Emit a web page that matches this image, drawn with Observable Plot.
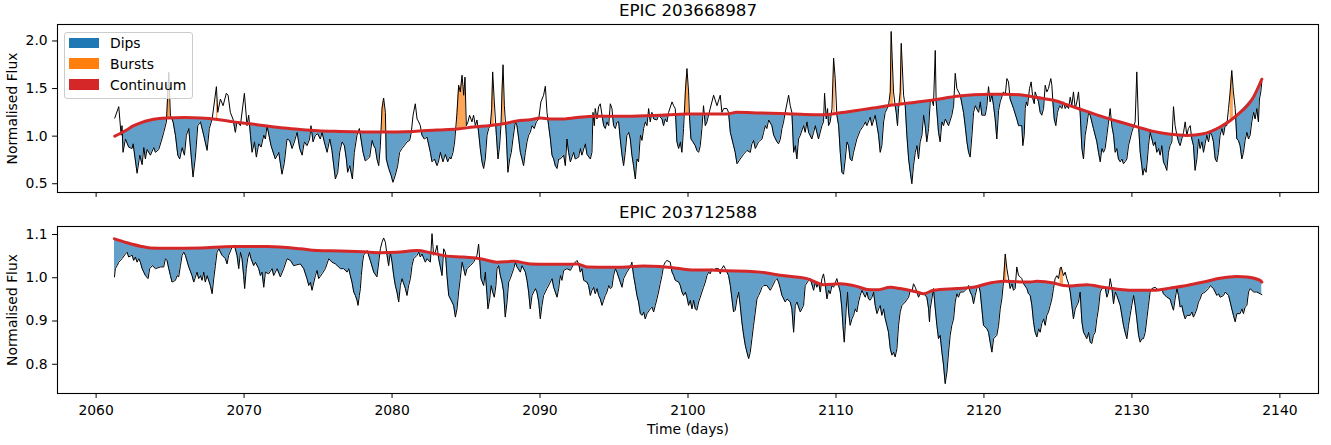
<!DOCTYPE html>
<html><head><meta charset="utf-8">
<script src="https://cdn.jsdelivr.net/npm/d3@7"></script>
<script src="https://cdn.jsdelivr.net/npm/@observablehq/plot@0.6"></script>
<style>
body{margin:0;background:#fff;}
#chart{position:relative;width:1331px;height:445px;font-family:"DejaVu Sans",sans-serif;}
#chart svg{display:block;}
.legend{position:absolute;left:64px;top:31.5px;width:129px;height:67px;box-sizing:border-box;border:1px solid #cccccc;border-radius:3px;background:rgba(255,255,255,0.8);font-size:13.9px;}
.legend .sw{position:absolute;left:4px;width:30px;height:10.6px;}
.legend .lab{position:absolute;left:45px;line-height:16px;white-space:nowrap;color:#000;}
</style></head>
<body><div id="chart"></div>
<script>
// ---------------- data ----------------
const xTicks = [2060, 2070, 2080, 2090, 2100, 2110, 2120, 2130, 2140];
const yTicksTop = [0.5, 1.0, 1.5, 2.0];
const yTicksBot = [0.8, 0.9, 1.0, 1.1];
const titles = ["EPIC 203668987", "EPIC 203712588"];
const legendLabels = ["Dips", "Bursts", "Continuum"];

// EPIC 203668987 light curve [time, flux]
const topFlux = [
[2061.26,1.19],[2061.53,1.31],[2061.69,1.01],[2061.75,1.11],[2061.82,0.83],[2061.98,0.97],[2062.20,0.885],[2062.43,0.87],[2062.50,0.92],[2062.77,0.61],[2062.95,0.80],[2063.11,0.70],[2063.22,0.88],[2063.33,0.76],[2063.44,0.86],[2063.67,0.80],[2063.89,0.88],[2064.01,0.83],[2064.23,0.86],[2064.41,0.95],[2064.57,1.04],[2064.75,1.15],[2064.91,1.67],[2065.02,1.22],[2065.20,1.15],[2065.36,1.01],[2065.52,0.80],[2065.65,0.76],[2065.81,0.88],[2065.97,0.80],[2066.10,1.01],[2066.26,1.08],[2066.55,0.57],[2066.71,0.78],[2066.87,1.11],[2067.05,1.15],[2067.27,1.01],[2067.50,0.85],[2067.65,1.08],[2067.84,1.18],[2068.13,1.52],[2068.22,1.25],[2068.40,1.39],[2068.58,1.32],[2068.80,1.45],[2068.92,1.43],[2069.07,1.25],[2069.25,1.18],[2069.41,1.04],[2069.52,1.15],[2069.75,1.11],[2070.02,1.45],[2070.20,1.11],[2070.31,1.22],[2070.43,1.01],[2070.54,0.83],[2070.70,0.94],[2070.83,0.78],[2070.99,0.92],[2071.15,0.885],[2071.33,1.01],[2071.44,0.97],[2071.55,1.11],[2071.82,0.90],[2072.11,0.76],[2072.34,0.83],[2072.56,0.60],[2072.72,0.72],[2072.90,0.97],[2073.08,0.955],[2073.24,0.87],[2073.40,0.94],[2073.58,1.04],[2073.76,0.87],[2073.92,0.80],[2074.07,0.94],[2074.25,0.90],[2074.43,0.97],[2074.52,1.11],[2074.66,0.94],[2074.82,1.01],[2074.97,1.025],[2075.15,0.97],[2075.27,1.04],[2075.42,0.94],[2075.61,0.83],[2075.79,0.97],
[2075.94,0.85],[2076.06,0.69],[2076.17,0.55],[2076.33,0.62],[2076.46,0.83],[2076.62,0.94],[2076.78,0.90],[2076.91,0.76],[2077.00,0.62],[2077.14,0.69],[2077.23,0.62],[2077.32,0.55],[2077.45,0.83],[2077.63,1.01],[2077.79,1.08],[2077.90,0.97],[2078.04,0.83],[2078.19,0.74],[2078.35,0.76],[2078.49,0.78],[2078.65,0.955],[2078.76,0.90],[2078.87,0.87],[2078.98,0.76],[2079.10,0.69],[2079.21,0.90],[2079.32,1.29],[2079.43,1.40],[2079.55,1.25],[2079.61,0.76],[2079.77,0.66],[2079.93,0.59],[2080.06,0.515],[2080.22,0.59],[2080.38,0.69],[2080.51,0.83],[2080.67,0.87],[2080.83,0.90],[2081.01,0.94],[2081.19,0.955],[2081.30,1.04],[2081.42,1.22],[2081.57,1.34],[2081.69,1.18],[2081.80,1.15],[2081.91,1.11],[2082.02,1.01],[2082.18,0.97],[2082.36,0.99],[2082.59,0.83],[2082.70,0.73],[2082.86,0.76],[2083.04,0.69],[2083.15,0.74],[2083.26,0.83],[2083.44,0.73],[2083.60,0.81],[2083.76,0.73],[2083.89,0.78],[2083.98,0.76],[2084.12,0.83],[2084.23,0.94],[2084.39,1.25],[2084.50,1.535],[2084.61,1.465],[2084.73,1.64],[2084.84,1.43],[2084.93,1.62],[2085.02,1.11],[2085.13,1.15],[2085.24,1.22],[2085.40,1.15],[2085.51,1.22],[2085.63,1.11],[2085.74,1.17],[2085.85,1.04],[2085.96,0.87],[2086.08,0.73],[2086.19,0.66],[2086.30,0.76],[2086.42,1.01],[2086.53,1.08],[2086.64,1.11],[2086.73,1.29],[2086.80,1.675],[2086.91,1.36],[2087.05,1.01],[2087.16,0.76],[2087.27,0.90],[2087.36,1.11],[2087.43,1.465],[2087.50,1.75],[2087.59,1.32],[2087.72,1.01],[2087.83,0.62],[2087.95,0.76],[2088.06,0.83],[2088.17,0.97],[2088.33,1.15],[2088.44,1.11],[2088.56,0.97],[2088.67,0.83],[2088.78,0.76],[2088.89,0.69],[2089.01,0.83],[2089.12,0.94],[2089.23,1.01],[2089.34,1.04],[2089.46,1.11],[2089.61,1.08],[2089.75,1.15],[2089.91,1.18],[2090.06,1.36],[2090.24,1.43],[2090.36,1.525],[2090.47,1.25],[2090.58,1.11],[2090.70,0.97],[2090.81,0.80],[2090.92,0.76],[2091.03,0.69],[2091.15,0.66],[2091.26,0.76],
[2091.37,0.76],[2091.60,0.80],[2091.71,0.69],[2091.82,0.97],[2091.93,0.83],[2092.05,0.73],[2092.27,0.83],[2092.38,0.76],[2092.61,0.78],[2092.72,0.87],[2092.83,0.80],[2093.06,0.92],[2093.17,0.81],[2093.40,0.76],[2093.51,0.83],[2093.58,1.25],[2093.67,1.11],[2093.73,1.29],[2093.85,1.18],[2093.96,1.31],[2094.07,1.34],[2094.19,1.22],[2094.30,1.11],[2094.41,1.08],[2094.52,1.15],[2094.64,1.11],[2094.75,1.34],[2094.86,1.29],[2094.97,1.11],[2095.09,1.08],[2095.20,1.15],[2095.31,1.15],[2095.42,0.97],[2095.54,0.80],[2095.65,0.69],[2095.76,0.83],[2095.87,1.01],[2095.99,1.04],[2096.10,0.97],[2096.21,0.80],[2096.32,0.69],[2096.44,0.55],[2096.55,0.76],[2096.66,0.73],[2096.78,1.01],[2096.89,0.955],[2097.00,1.08],[2097.11,1.15],[2097.23,1.11],[2097.34,1.29],[2097.45,1.15],[2097.56,1.25],[2097.68,1.18],[2097.90,1.17],[2098.01,1.22],[2098.24,1.18],[2098.35,1.11],[2098.46,1.18],[2098.58,1.15],[2098.69,1.25],[2098.92,1.36],[2099.03,1.32],[2099.14,1.29],[2099.25,0.94],[2099.37,0.87],[2099.48,0.94],[2099.59,0.83],[2099.70,1.08],[2099.82,1.465],[2099.93,1.71],[2100.04,1.465],[2100.11,1.18],[2100.20,0.97],[2100.33,0.94],[2100.49,0.90],[2100.60,0.85],[2100.72,0.83],[2100.83,0.90],[2100.94,1.08],[2101.05,1.32],[2101.17,1.11],[2101.28,1.15],[2101.50,1.29],[2101.73,1.43],[2101.96,1.32],[2102.18,1.43],[2102.29,1.25],[2102.41,1.29],[2102.63,1.29],[2102.74,1.25],[2102.86,1.04],[2102.97,0.97],[2103.08,0.90],[2103.19,0.83],[2103.31,0.71],[2103.53,0.76],[2103.76,0.81],[2103.98,0.85],[2104.21,0.83],[2104.32,0.92],[2104.43,0.955],[2104.55,0.87],[2104.77,0.94],[2105.00,0.97],[2105.11,1.04],[2105.22,1.11],[2105.33,1.08],[2105.45,1.17],[2105.67,1.11],[2105.79,1.01],[2106.01,0.94],[2106.12,0.92],[2106.24,0.97],[2106.35,1.08],[2106.46,1.15],[2106.57,1.25],[2106.80,1.43],
[2106.91,1.32],[2107.02,1.25],[2107.14,0.83],[2107.25,0.90],[2107.36,0.76],[2107.47,0.97],[2107.59,1.01],[2107.81,1.11],[2107.92,1.04],[2108.04,1.15],[2108.15,1.04],[2108.37,0.97],[2108.49,1.04],[2108.60,1.11],[2108.82,0.97],[2109.05,1.11],[2109.16,1.15],[2109.23,1.45],[2109.34,1.18],[2109.43,1.29],[2109.50,1.11],[2109.61,1.15],[2109.73,1.29],[2109.84,1.82],[2109.95,1.605],[2110.06,1.22],[2110.18,1.11],[2110.29,0.83],[2110.40,0.62],[2110.51,0.60],[2110.63,0.76],[2110.74,0.94],[2110.85,0.90],[2110.96,0.76],[2111.08,0.74],[2111.19,0.83],[2111.41,0.97],[2111.64,1.06],[2111.86,1.11],[2111.98,1.15],[2112.09,1.11],[2112.31,1.20],[2112.43,1.11],[2112.65,1.22],[2112.77,1.11],[2112.88,1.01],[2112.99,0.83],[2113.10,0.90],[2113.22,1.15],[2113.33,1.25],[2113.55,1.32],[2113.67,1.465],[2113.73,2.10],[2113.80,1.82],[2113.89,1.465],[2114.00,1.32],[2114.07,1.25],[2114.16,1.11],[2114.23,1.29],[2114.34,1.465],[2114.41,1.975],[2114.48,1.746],[2114.57,1.43],[2114.68,1.32],[2114.79,1.01],[2114.91,0.76],[2115.02,0.62],[2115.13,0.50],[2115.24,0.69],[2115.36,0.83],[2115.47,0.90],[2115.58,0.76],[2115.69,0.94],[2115.81,1.01],[2115.92,1.22],[2116.03,1.11],[2116.14,0.94],[2116.26,1.08],[2116.37,1.36],[2116.48,1.39],[2116.59,1.32],[2116.71,1.90],[2116.77,1.36],[2116.86,1.18],[2116.93,1.04],[2117.04,0.94],[2117.16,1.15],[2117.27,1.11],[2117.38,1.18],[2117.61,1.11],[2117.83,1.22],[2117.95,1.32],[2118.06,1.66],[2118.17,1.50],[2118.40,1.43],[2118.62,1.25],[2118.73,1.11],[2118.85,0.94],[2118.96,0.83],[2119.07,0.78],[2119.19,1.01],[2119.30,1.25],[2119.41,1.32],[2119.64,1.25],[2119.75,1.36],[2119.86,1.22],[2120.09,1.22],[2120.20,1.32],[2120.31,1.52],[2120.42,1.36],[2120.54,1.43],[2120.65,1.32],[2120.76,1.18],[2120.87,0.97],[2120.99,1.27],[2121.10,1.36],[2121.32,1.465],[2121.44,1.43],[2121.55,1.605],[2121.66,1.57],[2121.77,1.39],[2122.00,1.29],[2122.22,1.18],[2122.34,1.11],
[2122.56,1.11],[2122.63,0.90],[2122.72,1.01],[2122.79,1.29],[2122.86,1.36],[2122.95,1.32],[2123.08,1.50],[2123.19,1.57],[2123.31,1.39],[2123.40,1.34],[2123.46,1.465],[2123.58,1.41],[2123.69,1.36],[2123.80,1.25],[2123.91,1.22],[2124.03,1.29],[2124.14,1.535],[2124.25,1.465],[2124.36,1.50],[2124.43,1.55],[2124.52,1.605],[2124.59,1.535],[2124.66,1.36],[2124.75,1.18],[2124.86,1.11],[2124.97,1.25],[2125.11,1.32],[2125.27,1.29],[2125.38,1.36],[2125.49,1.29],[2125.60,1.32],[2125.72,1.29],[2125.83,1.41],[2125.94,1.32],[2126.05,1.465],[2126.17,1.29],[2126.28,1.36],[2126.39,1.465],[2126.50,1.25],[2126.62,0.87],[2126.73,0.76],[2126.84,1.01],[2126.95,1.11],[2127.07,1.25],[2127.18,1.22],[2127.40,1.08],[2127.63,0.94],[2127.74,0.83],[2127.86,0.73],[2127.97,0.87],[2128.08,0.83],[2128.19,0.87],[2128.31,1.01],[2128.42,1.15],[2128.53,1.29],[2128.64,1.11],[2128.76,1.01],[2128.87,0.83],[2128.98,0.87],[2129.09,0.76],[2129.21,0.73],[2129.32,0.76],[2129.43,0.71],[2129.54,0.73],[2129.66,0.76],[2129.77,0.90],[2129.88,0.97],[2129.99,1.04],[2130.11,1.10],[2130.22,1.15],[2130.33,1.675],[2130.45,1.11],[2130.56,0.83],[2130.67,0.69],[2130.74,0.59],[2130.83,0.66],[2130.96,0.62],[2131.05,0.76],[2131.12,0.90],[2131.23,1.04],[2131.35,0.97],[2131.46,0.90],[2131.57,0.94],[2131.68,0.83],[2131.80,0.87],[2131.91,0.80],[2132.02,0.90],[2132.13,0.73],[2132.25,0.69],[2132.36,0.64],[2132.47,0.83],[2132.58,0.90],[2132.70,0.94],[2132.81,1.31],[2132.92,1.11],[2133.04,1.01],[2133.15,0.94],[2133.26,0.90],[2133.37,0.97],[2133.49,1.04],[2133.60,1.15],[2133.71,1.01],[2133.82,1.08],[2133.94,1.11],[2134.05,0.97],[2134.16,0.90],[2134.27,0.64],[2134.39,0.76],[2134.50,0.97],[2134.61,0.87],[2134.73,0.94],[2134.84,0.83],[2134.95,0.92],[2135.06,1.01],[2135.18,0.94],[2135.29,1.04],[2135.40,1.01],[2135.51,0.94],[2135.63,0.76],[2135.74,0.73],[2135.85,0.83],[2135.96,1.01],[2136.08,1.08],[2136.19,1.01],[2136.30,1.11],[2136.41,1.11],[2136.53,1.29],[2136.64,1.465],[2136.75,1.69],[2136.86,1.465],[2136.98,1.29],[2137.09,0.97],[2137.20,0.955],[2137.31,0.90],[2137.43,0.76],[2137.54,0.83],[2137.65,0.955],[2137.77,1.04],[2137.88,0.97],[2137.99,1.01],[2138.10,1.15],[2138.22,1.25],[2138.33,1.18],[2138.44,1.29],[2138.55,1.15],[2138.62,1.39],[2138.71,1.465],[2138.78,1.57]
];
// EPIC 203668987 continuum [time, flux]
const topContinuum = [
[2061.26,1.00],[2062.0,1.06],[2062.54,1.11],[2063.0,1.14],[2063.67,1.17],[2064.79,1.19],[2066.0,1.195],[2067.05,1.19],[2068.2,1.175],[2069.3,1.15],[2070.4,1.13],[2071.55,1.106],[2072.7,1.085],[2073.8,1.07],[2075.0,1.057],[2076.5,1.05],[2079.2,1.043],[2081.46,1.05],[2083.04,1.065],[2084.39,1.075],[2085.51,1.096],[2086.64,1.113],[2087.54,1.131],[2088.44,1.16],[2089.34,1.173],[2090.02,1.19],[2090.7,1.18],[2091.37,1.18],[2092.5,1.195],[2093.62,1.21],[2095.87,1.208],[2098.12,1.219],[2099.93,1.233],[2102.63,1.233],[2103.31,1.25],[2104.88,1.243],[2106.69,1.236],[2107.9,1.228],[2109.16,1.226],[2110.3,1.245],[2111.41,1.27],[2112.5,1.295],[2113.67,1.324],[2114.8,1.345],[2115.92,1.366],[2117.0,1.39],[2118.17,1.42],[2119.3,1.435],[2120.42,1.44],[2121.5,1.44],[2122.68,1.43],[2123.6,1.405],[2124.7,1.377],[2125.8,1.32],[2126.95,1.26],[2128.1,1.20],[2129.21,1.148],[2130.3,1.10],[2131.46,1.05],[2132.6,1.02],[2133.71,1.008],[2134.84,1.025],[2135.96,1.096],[2137.09,1.219],[2138.22,1.412],[2138.78,1.598]
];
// EPIC 203668987 burst intervals [start, end]
const topBursts = [[2064.7,2065.1],[2068.0,2068.25],[2079.3,2079.6],[2084.3,2085.05],[2086.65,2086.95],[2087.38,2087.65],[2099.75,2100.1],[2109.75,2110.0],[2113.6,2113.9],[2114.3,2114.55],[2130.25,2130.42],[2136.6,2136.9]];

// EPIC 203712588 light curve [time, flux]
const botFlux = [
[2061.24,1.002],[2061.30,1.021],[2061.42,1.028],[2061.53,1.036],[2061.75,1.044],[2061.98,1.055],[2062.09,1.059],[2062.20,1.048],[2062.43,1.052],[2062.54,1.040],[2062.65,1.048],[2062.77,1.036],[2062.88,1.044],[2062.99,1.036],[2063.11,1.021],[2063.33,1.005],[2063.51,0.998],[2063.62,1.021],[2063.80,1.028],[2064.01,1.021],[2064.35,1.025],[2064.57,1.025],[2064.68,1.044],[2064.79,1.040],[2064.91,1.021],[2065.02,1.005],[2065.13,0.990],[2065.36,0.994],[2065.47,1.005],[2065.58,1.002],[2065.70,1.028],[2065.81,1.052],[2065.92,1.059],[2066.03,1.052],[2066.26,1.025],[2066.48,1.005],[2066.60,0.990],[2066.82,1.013],[2066.93,0.998],[2067.05,1.005],[2067.16,0.994],[2067.27,1.013],[2067.38,0.990],[2067.50,1.005],[2067.72,0.982],[2067.84,0.963],[2067.95,0.998],[2068.06,1.028],[2068.17,1.059],[2068.29,1.067],[2068.51,1.052],[2068.74,1.044],[2068.85,1.032],[2068.96,1.052],[2069.19,1.071],[2069.34,1.075],[2069.52,1.052],[2069.64,1.021],[2069.75,1.059],[2069.86,1.044],[2069.97,1.005],[2070.04,0.975],[2070.15,1.021],[2070.24,1.044],[2070.36,1.059],[2070.47,1.044],[2070.65,1.028],[2070.76,1.036],[2070.99,1.021],[2071.10,1.005],[2071.21,1.013],[2071.33,0.978],[2071.44,1.013],[2071.66,1.009],[2071.89,1.021],[2072.00,1.005],[2072.23,1.021],[2072.45,1.002],[2072.68,1.021],[2072.90,1.044],[2073.13,1.040],[2073.35,1.028],[2073.80,1.032],[2074.03,1.021],[2074.25,0.998],[2074.37,0.982],[2074.48,0.990],[2074.59,0.971],[2074.82,1.005],[2074.93,1.017],[2075.04,0.998],[2075.27,1.009],[2075.49,1.021],[2075.72,1.044],[2075.94,1.036],[2076.17,1.032],[2076.39,1.025],
[2076.51,1.021],[2076.73,1.021],[2076.96,1.013],[2077.07,1.021],[2077.18,1.005],[2077.29,0.990],[2077.41,0.967],[2077.52,0.959],[2077.63,0.948],[2077.70,0.936],[2077.79,0.959],[2077.86,0.975],[2077.92,1.005],[2078.01,1.036],[2078.08,1.052],[2078.31,1.063],[2078.53,1.040],[2078.76,1.013],[2078.98,1.002],[2079.10,1.036],[2079.21,1.067],[2079.32,1.082],[2079.43,1.092],[2079.55,1.082],[2079.66,1.052],[2079.77,1.028],[2079.88,1.059],[2080.00,1.036],[2080.11,1.005],[2080.22,0.982],[2080.33,0.967],[2080.45,0.944],[2080.56,0.982],[2080.67,0.998],[2080.90,0.975],[2081.01,0.959],[2081.12,0.982],[2081.24,0.998],[2081.35,1.028],[2081.46,1.044],[2081.69,1.052],[2081.80,1.059],[2081.91,1.048],[2082.02,1.055],[2082.25,1.036],[2082.36,1.044],[2082.59,1.036],[2082.70,1.102],[2082.81,1.052],[2082.92,1.059],[2083.04,1.075],[2083.15,1.044],[2083.38,1.005],[2083.49,1.067],[2083.60,1.059],[2083.71,1.005],[2083.83,0.959],[2084.05,0.944],[2084.16,0.936],[2084.28,0.909],[2084.39,0.928],[2084.50,0.967],[2084.61,0.998],[2084.73,1.036],[2084.84,1.021],[2084.95,1.005],[2085.06,1.021],[2085.29,1.028],[2085.51,1.036],[2085.74,1.052],[2085.85,1.078],[2085.92,1.044],[2086.01,0.998],[2086.19,0.982],[2086.30,1.013],[2086.42,0.959],[2086.48,0.928],[2086.60,0.951],[2086.69,0.982],[2086.80,0.967],[2086.91,0.955],[2087.02,0.982],[2087.09,1.021],[2087.20,1.028],[2087.32,1.005],[2087.43,0.990],[2087.54,0.967],[2087.65,0.909],[2087.77,0.944],[2087.88,0.990],[2087.99,0.998],[2088.22,1.021],[2088.33,1.036],[2088.44,1.025],[2088.67,1.013],[2088.78,1.028],[2089.01,1.013],[2089.12,0.994],[2089.23,0.967],[2089.34,0.928],[2089.46,0.959],[2089.68,0.975],[2089.79,0.967],[2089.91,0.944],[2090.02,0.905],[2090.13,0.936],[2090.24,0.959],[2090.47,0.975],[2090.70,0.990],[2090.81,0.998],[2090.92,0.978],[2091.15,0.955],[2091.26,0.975],[2091.37,1.005],[2091.48,0.994],[2091.60,1.017],[2091.82,1.021],
[2092.05,1.017],[2092.27,1.032],[2092.50,1.040],[2092.61,1.032],[2092.72,1.013],[2092.83,1.021],[2092.95,0.994],[2093.17,0.990],[2093.28,0.982],[2093.40,0.959],[2093.51,0.971],[2093.62,0.978],[2093.73,0.963],[2093.85,0.975],[2093.96,0.959],[2094.07,0.951],[2094.19,0.936],[2094.30,0.948],[2094.41,0.959],[2094.52,0.967],[2094.64,0.982],[2094.75,0.975],[2094.86,0.978],[2094.97,1.005],[2095.09,1.021],[2095.20,1.013],[2095.42,0.990],[2095.54,0.978],[2095.65,0.998],[2095.87,1.013],[2096.10,1.025],[2096.21,1.036],[2096.32,1.005],[2096.44,0.982],[2096.55,0.959],[2096.66,0.944],[2096.78,0.917],[2096.89,0.913],[2097.00,0.921],[2097.11,0.905],[2097.23,0.917],[2097.45,0.928],[2097.56,0.932],[2097.68,0.921],[2097.79,0.936],[2097.90,0.951],[2098.01,0.967],[2098.12,0.986],[2098.24,1.005],[2098.35,1.028],[2098.46,1.036],[2098.58,1.040],[2098.80,1.036],[2098.92,1.013],[2099.03,1.005],[2099.14,0.994],[2099.37,0.990],[2099.48,0.982],[2099.59,0.967],[2099.70,0.959],[2099.82,0.967],[2099.93,0.955],[2100.04,0.936],[2100.15,0.948],[2100.27,0.928],[2100.38,0.948],[2100.49,0.928],[2100.60,0.925],[2100.72,0.944],[2100.83,0.955],[2100.94,0.967],[2101.05,0.978],[2101.17,0.990],[2101.28,1.005],[2101.39,1.013],[2101.50,1.009],[2101.62,1.021],[2101.73,1.017],[2101.84,1.021],[2102.07,1.021],[2102.18,1.009],[2102.29,1.021],[2102.41,1.028],[2102.52,1.021],[2102.63,1.013],[2102.74,1.005],[2102.86,0.982],[2102.97,0.951],[2103.08,0.921],[2103.19,0.925],[2103.31,0.951],[2103.42,0.967],[2103.53,0.936],[2103.64,0.898],[2103.76,0.867],[2103.87,0.844],[2103.98,0.828],[2104.10,0.813],[2104.21,0.828],[2104.32,0.859],[2104.43,0.890],[2104.55,0.921],[2104.66,0.951],[2104.77,0.959],[2104.88,0.967],[2105.00,0.978],[2105.11,0.982],[2105.33,0.982],[2105.56,0.971],[2105.67,0.978],[2105.90,0.994],[2106.01,0.998],[2106.12,0.990],[2106.24,0.975],[2106.35,0.959],[2106.57,0.944],[2106.69,0.951],
[2106.91,0.944],[2107.02,0.928],[2107.14,0.874],[2107.25,0.936],[2107.36,0.944],[2107.59,0.921],[2107.81,0.936],[2107.92,0.982],[2108.15,0.994],[2108.26,0.998],[2108.49,0.971],[2108.60,0.990],[2108.71,0.978],[2108.82,0.990],[2108.94,0.967],[2109.05,0.998],[2109.16,1.009],[2109.27,0.986],[2109.39,0.951],[2109.50,0.971],[2109.61,0.963],[2109.73,0.982],[2109.84,0.978],[2110.06,0.998],[2110.18,0.982],[2110.29,0.967],[2110.40,0.928],[2110.47,0.890],[2110.56,0.851],[2110.63,0.890],[2110.69,0.928],[2110.78,0.967],[2110.85,0.921],[2110.96,0.890],[2111.08,0.905],[2111.19,0.913],[2111.30,0.928],[2111.41,0.921],[2111.53,0.944],[2111.64,0.959],[2111.75,0.971],[2111.86,0.963],[2111.98,0.955],[2112.09,0.967],[2112.20,0.951],[2112.31,0.948],[2112.43,0.955],[2112.54,0.967],[2112.65,0.936],[2112.77,0.917],[2112.88,0.928],[2112.99,0.936],[2113.10,0.913],[2113.22,0.928],[2113.33,0.905],[2113.44,0.890],[2113.55,0.874],[2113.67,0.836],[2113.78,0.821],[2113.89,0.828],[2114.00,0.817],[2114.12,0.836],[2114.23,0.890],[2114.34,0.921],[2114.46,0.936],[2114.68,0.944],[2114.91,0.955],[2115.02,0.971],[2115.13,0.967],[2115.24,0.986],[2115.36,0.978],[2115.47,0.967],[2115.58,0.955],[2115.69,0.963],[2115.92,0.963],[2116.14,0.955],[2116.26,0.928],[2116.32,0.898],[2116.37,0.928],[2116.48,0.951],[2116.59,0.975],[2116.71,0.928],[2116.82,0.890],[2116.93,0.859],[2117.04,0.867],[2117.16,0.828],[2117.27,0.798],[2117.38,0.755],[2117.50,0.782],[2117.61,0.828],[2117.72,0.867],[2117.83,0.890],[2117.95,0.905],[2118.06,0.944],[2118.17,0.963],[2118.28,0.955],[2118.40,0.967],[2118.62,0.967],[2118.85,0.975],[2118.96,0.982],[2119.07,0.967],[2119.19,0.959],[2119.30,0.940],[2119.41,0.959],[2119.52,0.975],[2119.64,0.982],[2119.75,0.967],[2119.86,0.928],[2119.97,0.890],[2120.20,0.882],[2120.31,0.874],[2120.42,0.851],[2120.54,0.828],[2120.65,0.859],[2120.87,0.867],[2120.99,0.890],[2121.10,0.928],[2121.21,0.951],[2121.32,0.990],[2121.44,1.055],[2121.55,1.021],[2121.66,0.998],[2121.77,0.975],[2121.89,0.986],[2122.00,0.971],[2122.11,0.975],[2122.22,1.025],[2122.34,1.005],[2122.45,1.002],
[2122.56,0.998],[2122.68,0.986],[2122.90,0.975],[2123.01,0.963],[2123.13,0.959],[2123.24,0.936],[2123.35,0.898],[2123.46,0.874],[2123.58,0.863],[2123.69,0.882],[2123.80,0.874],[2123.91,0.894],[2124.03,0.905],[2124.14,0.890],[2124.25,0.913],[2124.36,0.921],[2124.48,0.936],[2124.59,0.951],[2124.70,0.975],[2124.81,0.998],[2124.93,1.005],[2125.04,0.998],[2125.15,1.021],[2125.22,1.025],[2125.31,1.013],[2125.38,1.005],[2125.49,1.013],[2125.60,0.998],[2125.72,0.986],[2125.83,0.967],[2125.94,0.936],[2126.05,0.905],[2126.17,0.928],[2126.28,0.936],[2126.39,0.944],[2126.50,0.967],[2126.62,0.898],[2126.73,0.874],[2126.84,0.867],[2126.95,0.859],[2127.07,0.874],[2127.18,0.851],[2127.29,0.848],[2127.40,0.867],[2127.52,0.874],[2127.63,0.905],[2127.74,0.928],[2127.86,0.967],[2127.97,0.975],[2128.19,0.978],[2128.31,0.955],[2128.42,0.967],[2128.53,0.998],[2128.64,0.978],[2128.76,0.940],[2128.87,0.967],[2128.98,0.959],[2129.21,0.936],[2129.32,0.913],[2129.43,0.890],[2129.54,0.874],[2129.66,0.859],[2129.77,0.890],[2129.88,0.913],[2129.99,0.936],[2130.11,0.959],[2130.22,0.936],[2130.33,0.905],[2130.45,0.867],[2130.56,0.851],[2130.67,0.859],[2130.78,0.859],[2130.90,0.874],[2131.01,0.905],[2131.12,0.936],[2131.23,0.967],[2131.35,0.975],[2131.57,0.978],[2131.80,0.971],[2132.02,0.975],[2132.13,0.963],[2132.36,0.955],[2132.58,0.951],[2132.70,0.936],[2132.81,0.925],[2132.92,0.951],[2133.04,0.975],[2133.15,0.959],[2133.26,0.932],[2133.37,0.936],[2133.49,0.917],[2133.60,0.905],[2133.71,0.913],[2133.94,0.913],[2134.05,0.921],[2134.16,0.909],[2134.27,0.917],[2134.39,0.928],[2134.50,0.944],[2134.61,0.951],[2134.73,0.963],[2134.95,0.967],[2135.18,0.975],[2135.29,0.982],[2135.51,0.975],[2135.74,0.959],[2135.85,0.963],[2135.96,0.955],[2136.19,0.959],[2136.30,0.967],[2136.53,0.959],[2136.64,0.944],[2136.75,0.928],[2136.86,0.913],[2136.98,0.898],[2137.09,0.917],[2137.31,0.917],[2137.43,0.928],[2137.54,0.917],[2137.65,0.932],[2137.77,0.936],[2137.88,0.967],[2137.99,0.975],[2138.22,0.967],[2138.44,0.967],[2138.67,0.963],[2138.78,0.961]
];
// EPIC 203712588 continuum [time, flux]
const botContinuum = [
[2061.24,1.090],[2062.09,1.081],[2062.99,1.073],[2063.67,1.069],[2064.79,1.068],[2067.05,1.069],[2069.3,1.072],[2071.55,1.072],[2073.8,1.067],[2074.93,1.063],[2076.51,1.062],[2078.08,1.060],[2079.21,1.058],[2080.33,1.059],[2081.69,1.063],[2082.59,1.058],[2083.71,1.050],[2084.84,1.048],[2085.96,1.044],[2087.09,1.036],[2088.22,1.038],[2089.34,1.032],[2090.47,1.031],[2092.05,1.031],[2092.5,1.032],[2093.17,1.025],[2094.75,1.024],[2095.87,1.025],[2097.0,1.027],[2098.12,1.026],[2099.25,1.022],[2100.38,1.018],[2101.5,1.018],[2102.63,1.016],[2103.98,1.015],[2104.88,1.013],[2106.01,1.007],[2107.0,1.003],[2108.04,0.998],[2109.16,0.984],[2110.29,0.986],[2111.41,0.980],[2112.09,0.973],[2112.77,0.972],[2113.67,0.978],[2114.34,0.975],[2115.47,0.967],[2115.92,0.963],[2116.59,0.971],[2118.17,0.975],[2119.3,0.978],[2120.42,0.988],[2121.32,0.992],[2123.13,0.990],[2123.58,0.992],[2124.7,0.988],[2125.38,0.982],[2125.83,0.981],[2126.95,0.984],[2128.08,0.978],[2129.21,0.973],[2130.33,0.971],[2131.46,0.971],[2132.58,0.976],[2133.71,0.982],[2134.84,0.990],[2135.96,0.999],[2137.09,1.003],[2137.77,1.002],[2138.67,0.994],[2138.78,0.990]
];
const botBursts = [[2121.3,2121.62],[2125.05,2125.42]];

// ---------------- helpers ----------------
function interpolator(knots){
  const ts = knots.map(d => d[0]);
  return t => {
    const i = d3.bisectRight(ts, t);
    if (i <= 0) return knots[0][1];
    if (i >= knots.length) return knots[knots.length-1][1];
    const [t0,v0] = knots[i-1], [t1,v1] = knots[i];
    return v0 + (v1 - v0) * (t - t0) / (t1 - t0);
  };
}
function buildRows(pts, cont, bursts){
  const cf = interpolator(cont);
  const inB = t => bursts.some(([a,b]) => t >= a && t <= b);
  const raw = [];
  for (let i = 0; i < pts.length; i++){
    const [t,f] = pts[i]; const c = cf(t);
    if (i > 0){
      const [tp,fp] = pts[i-1]; const cp = cf(tp);
      const dp = fp - cp, d = f - c;
      if (dp * d < 0){
        const tc = tp + (t - tp) * dp / (dp - d);
        const cc = cf(tc);
        raw.push({t: tc, f: cc, c: cc});
      }
    }
    raw.push({t, f, c});
  }
  return raw.map(r => ({
    t: r.t, c: r.c,
    lo: Math.min(r.f, r.c),
    bLo: inB(r.t) ? r.c : NaN,
    bHi: inB(r.t) ? Math.max(r.f, r.c) : NaN
  }));
}
const xDomain = [2057.39, 2142.61];
const FONT = "DejaVu Sans";

function panel({pts, cont, bursts, yDomain, yTicks, title, height, marginTop, marginBottom, showX}){
  const rows = buildRows(pts, cont, bursts);
  const marks = [
    Plot.areaY(rows, {x: "t", y1: "lo", y2: "c", fill: "#1f77b4", fillOpacity: 0.7}),
    Plot.areaY(rows, {x: "t", y1: "bLo", y2: "bHi", fill: "#ff7f0e", fillOpacity: 0.7}),
    Plot.line(pts, {x: d => d[0], y: d => d[1], stroke: "black", strokeWidth: 1}),
    Plot.line(cont, {x: d => d[0], y: d => d[1], stroke: "#d62728", strokeWidth: 3, curve: "monotone-x"}),
    Plot.frame({stroke: "black", strokeWidth: 1.1}),
    Plot.axisY({ticks: yTicks, tickSize: 4.9, tickPadding: 4.9, tickFormat: d3.format(".1f"), label: null}),
    Plot.axisX({ticks: xTicks, tickSize: 4.9, tickPadding: 6.5, tickFormat: showX ? d3.format("d") : () => "", label: null}),
    Plot.text([title], {frameAnchor: "top", dy: -8.3, lineAnchor: "bottom", fontSize: 16.7}),
    Plot.text(["Normalised Flux"], {frameAnchor: "left", dx: -45, rotate: -90, textAnchor: "middle", lineAnchor: "middle"})
  ];
  if (showX) marks.push(Plot.text(["Time (days)"], {frameAnchor: "bottom", dy: 40, lineAnchor: "bottom"}));
  return Plot.plot({
    width: 1331, height, marginLeft: 57, marginRight: 13, marginTop, marginBottom,
    x: {domain: xDomain},
    y: {domain: yDomain},
    style: {fontFamily: FONT, fontSize: "13.9px", background: "white", color: "black", overflow: "visible"},
    marks
  });
}

const chart = document.getElementById("chart");
chart.append(panel({pts: topFlux, cont: topContinuum, bursts: topBursts, yDomain: [0.408, 2.173], yTicks: yTicksTop,
  title: titles[0], height: 200, marginTop: 24, marginBottom: 8, showX: false}));
chart.append(panel({pts: botFlux, cont: botContinuum, bursts: botBursts, yDomain: [0.7324, 1.1185], yTicks: yTicksBot,
  title: titles[1], height: 245, marginTop: 26, marginBottom: 52, showX: true}));

// legend (inside top panel)
const colors = ["#1f77b4", "#ff7f0e", "#d62728"];
const leg = document.createElement("div");
leg.className = "legend";
legendLabels.forEach((lab, i) => {
  const top = 5 + i * 20.8;
  const sw = document.createElement("div");
  sw.className = "sw"; sw.style.top = top + "px"; sw.style.background = colors[i];
  const tx = document.createElement("div");
  tx.className = "lab"; tx.style.top = (top - 2.6) + "px"; tx.textContent = lab;
  leg.append(sw, tx);
});
chart.append(leg);
</script>
</body></html>
